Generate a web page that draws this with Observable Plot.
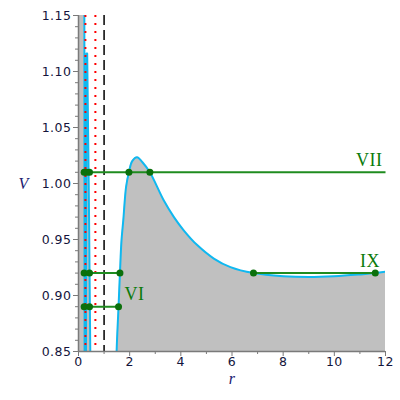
<!DOCTYPE html>
<html>
<head>
<meta charset="utf-8">
<script src="https://cdn.jsdelivr.net/npm/d3@7"></script>
<script src="https://cdn.jsdelivr.net/npm/@observablehq/plot@0.6"></script>
<style>
  html, body { margin: 0; padding: 0; background: #fff; }
  #chart svg text { letter-spacing: 0.5px; }
</style>
</head>
<body>
<div id="chart"></div>
<script>
// ---- data ----
// inner branch near r = 0 (steep wall and narrow spike)
const innerR = [0, 0.20, 0.225, 0.24, 0.29, 0.31, 0.34, 0.40, 0.46, 0.49];
const innerV = [1.30, 1.30, 1.25, 0.80, 0.80, 1.116, 1.116, 1.00, 0.85, 0.80];
// outer branch (potential barrier and well)
const outerR = [1.46, 1.49, 1.565, 1.62, 1.68, 1.75, 1.86, 1.97, 2.10, 2.29, 2.50, 2.79, 3.33, 3.73, 4.12, 4.64, 5.29, 5.94, 6.84, 8.0, 9.0, 10.0, 11.0, 11.6, 12.0];
const outerV = [0.80, 0.85, 0.89, 0.92, 0.949, 0.967, 0.997, 1.01, 1.020, 1.0235, 1.019, 1.01, 0.985, 0.970, 0.958, 0.945, 0.933, 0.9253, 0.920, 0.9172, 0.9165, 0.9172, 0.9188, 0.920, 0.9212];

// energy levels (horizontal segments)
const segR1 = [0.20, 0.20, 6.84, 0.20];
const segR2 = [12.0, 1.62, 11.6, 1.565];
const segV  = [1.01, 0.92, 0.92, 0.89];
// intersection dots
const dotR = [0.22, 0.31, 0.43, 1.97, 2.79, 0.22, 0.43, 1.62, 6.84, 11.6, 0.22, 0.43, 1.565];
const dotV = [1.01, 1.01, 1.01, 1.01, 1.01, 0.92, 0.92, 0.92, 0.92, 0.92, 0.89, 0.89, 0.89];
// level labels
const labelText = ["VII", "IX", "VI"];
const labelR = [10.85, 11.0, 1.8];
const labelV = [1.01, 0.92, 0.89];

// vertical reference lines
const redDotted = [0.27, 0.66];
const blackDashed = [1.0];

// ticks
const xTicks = [0, 2, 4, 6, 8, 10, 12];
const xMinor = [1, 3, 5, 7, 9, 11];
const yTicks = [0.85, 0.90, 0.95, 1.00, 1.05, 1.10, 1.15];
const yMinor = [0.86,0.87,0.88,0.89,0.91,0.92,0.93,0.94,0.96,0.97,0.98,0.99,1.01,1.02,1.03,1.04,1.06,1.07,1.08,1.09,1.11,1.12,1.13,1.14];

// ---- build tables ----
const inner = innerR.map((r, i) => ({r, V: innerV[i]}));
const outer = outerR.map((r, i) => ({r, V: outerV[i]}));
const segs = segV.map((V, i) => ({r1: segR1[i], r2: segR2[i], V}));
const dots = dotR.map((r, i) => ({r, V: dotV[i]}));
const labels = labelText.map((t, i) => ({t, r: labelR[i], V: labelV[i]}));

const curveColor = "#10b8f0";
const fillColor = "#c0c0c0";
const axisColor = "#7a7a7a";
const textColor = "#14143c";

const chart = Plot.plot({
  width: 400,
  height: 400,
  marginLeft: 78,
  marginRight: 15,
  marginTop: 15,
  marginBottom: 49,
  style: {fontFamily: "DejaVu Sans, sans-serif", fontSize: "12.5px", color: textColor, background: "#fff"},
  x: {domain: [0, 12], label: null},
  y: {domain: [0.85, 1.15], label: null},
  marks: [
    Plot.areaY(inner, {x: "r", y1: () => 0.75, y2: "V", fill: fillColor, clip: true}),
    Plot.areaY(outer, {x: "r", y1: () => 0.75, y2: "V", fill: fillColor, curve: "catmull-rom", clip: true}),
    Plot.line(inner, {x: "r", y: "V", stroke: curveColor, strokeWidth: 2, clip: true}),
    Plot.line(outer, {x: "r", y: "V", stroke: curveColor, strokeWidth: 2, curve: "catmull-rom", clip: true}),
    Plot.ruleX(redDotted, {stroke: "#ff0000", strokeWidth: 2, strokeDasharray: "2,6"}),
    Plot.ruleX(blackDashed, {stroke: "#000", strokeWidth: 1.5, strokeDasharray: "10,5"}),
    Plot.link(segs, {x1: "r1", x2: "r2", y1: "V", y2: "V", stroke: "#1f8c1f", strokeWidth: 2}),
    Plot.dot(dots, {x: "r", y: "V", r: 3.5, fill: "#0b700b", stroke: null}),
    Plot.text(labels, {x: "r", y: "V", text: "t", dy: -12, textAnchor: "start", fill: "#0a7a0a",
      fontFamily: "Liberation Serif, Times New Roman, serif", fontSize: 18}),
    // axes
    Plot.ruleX([0], {stroke: axisColor, strokeWidth: 1.5}),
    Plot.ruleY([0.85], {stroke: axisColor, strokeWidth: 1.5}),
    Plot.axisX(xTicks, {label: null, tickSize: 5, tickPadding: 1, stroke: axisColor, fill: textColor, fontSize: 12.5, tickFormat: d => String(d)}),
    Plot.axisX(xMinor, {label: null, tickSize: 3, stroke: axisColor, tickFormat: () => ""}),
    Plot.axisY(yTicks, {label: null, tickSize: 5, tickPadding: 2, stroke: axisColor, fill: textColor, fontSize: 12.5, tickFormat: d => d.toFixed(2)}),
    Plot.axisY(yMinor, {label: null, tickSize: 3, stroke: axisColor, tickFormat: () => ""}),
    Plot.text(["V"], {frameAnchor: "left", dx: -60, text: d => d, fontStyle: "italic",
      fontFamily: "Liberation Serif, Times New Roman, serif", fontSize: 16, fill: "#202070"}),
    Plot.text(["r"], {frameAnchor: "bottom", dy: 32, text: d => d, fontStyle: "italic",
      fontFamily: "Liberation Serif, Times New Roman, serif", fontSize: 16, fill: "#202070"})
  ]
});
document.getElementById("chart").appendChild(chart);
</script>
</body>
</html>
